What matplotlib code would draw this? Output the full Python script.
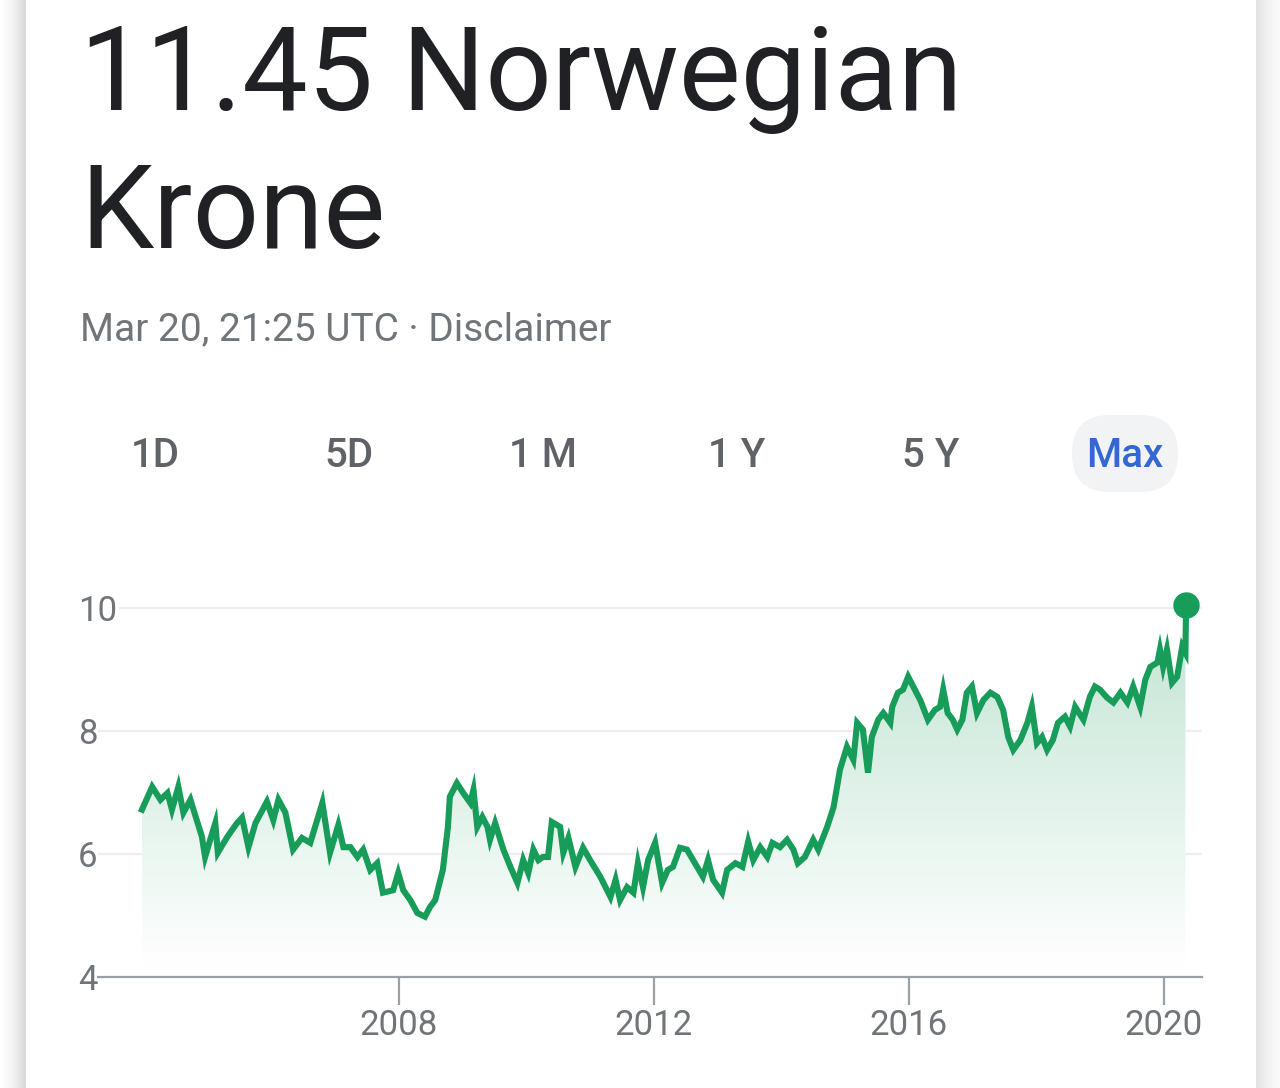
import numpy as np
import matplotlib.pyplot as plt
from matplotlib.colors import LinearSegmentedColormap
from matplotlib.patches import FancyBboxPatch

plt.rcParams['font.family'] = ['Roboto', 'DejaVu Sans']

# NOK per USD (decimal years)
years = [2003.97, 2004.13, 2004.26, 2004.37, 2004.44, 2004.54, 2004.62, 2004.73,
         2004.91, 2004.96, 2005.04, 2005.12, 2005.16, 2005.31, 2005.46, 2005.54,
         2005.64, 2005.75, 2005.93, 2006.03, 2006.11, 2006.22, 2006.34, 2006.48,
         2006.61, 2006.80, 2006.92, 2007.05, 2007.13, 2007.24, 2007.35, 2007.44,
         2007.55, 2007.66, 2007.75, 2007.91, 2007.99, 2008.07, 2008.18, 2008.29,
         2008.41, 2008.49, 2008.57, 2008.69, 2008.77, 2008.80, 2008.91, 2009.01,
         2009.12, 2009.17, 2009.23, 2009.31, 2009.39, 2009.43, 2009.51, 2009.64,
         2009.75, 2009.86, 2009.95, 2010.03, 2010.11, 2010.19, 2010.26, 2010.34,
         2010.40, 2010.53, 2010.58, 2010.66, 2010.77, 2010.89, 2011.00, 2011.16,
         2011.32, 2011.40, 2011.47, 2011.58, 2011.68, 2011.75, 2011.83, 2011.91,
         2012.02, 2012.13, 2012.22, 2012.30, 2012.41, 2012.52, 2012.68, 2012.77,
         2012.85, 2012.93, 2013.07, 2013.15, 2013.28, 2013.39, 2013.48, 2013.56,
         2013.67, 2013.78, 2013.86, 2013.98, 2014.09, 2014.19, 2014.26, 2014.37,
         2014.50, 2014.58, 2014.72, 2014.82, 2014.92, 2015.03, 2015.13, 2015.19,
         2015.28, 2015.36, 2015.42, 2015.52, 2015.60, 2015.71, 2015.74, 2015.83,
         2015.91, 2015.99, 2016.07, 2016.18, 2016.30, 2016.41, 2016.49, 2016.54,
         2016.61, 2016.69, 2016.76, 2016.84, 2016.91, 2016.99, 2017.07, 2017.17,
         2017.28, 2017.39, 2017.48, 2017.56, 2017.64, 2017.75, 2017.86, 2017.93,
         2018.01, 2018.09, 2018.17, 2018.26, 2018.34, 2018.45, 2018.53, 2018.61,
         2018.74, 2018.84, 2018.92, 2019.00, 2019.11, 2019.21, 2019.32, 2019.43,
         2019.52, 2019.63, 2019.71, 2019.79, 2019.90, 2019.94, 2019.99, 2020.05,
         2020.13, 2020.21, 2020.29, 2020.34, 2020.35]
rate = [6.72, 7.09, 6.88, 6.99, 6.72, 7.09, 6.67, 6.88,
        6.28, 5.95, 6.23, 6.50, 6.02, 6.28, 6.50, 6.59,
        6.11, 6.50, 6.85, 6.55, 6.88, 6.67, 6.07, 6.26,
        6.18, 6.83, 6.02, 6.47, 6.11, 6.11, 5.95, 6.07,
        5.74, 5.85, 5.37, 5.41, 5.69, 5.41, 5.25, 5.04,
        4.98, 5.14, 5.25, 5.74, 6.44, 6.93, 7.15, 6.99,
        6.83, 7.04, 6.44, 6.60, 6.44, 6.23, 6.50, 6.07,
        5.79, 5.53, 5.90, 5.69, 6.07, 5.90, 5.95, 5.95,
        6.52, 6.44, 6.02, 6.26, 5.79, 6.10, 5.90, 5.63,
        5.30, 5.58, 5.25, 5.46, 5.37, 5.85, 5.46, 5.90,
        6.18, 5.53, 5.74, 5.79, 6.10, 6.07, 5.79, 5.63,
        5.90, 5.58, 5.37, 5.74, 5.85, 5.79, 6.20, 5.90,
        6.11, 5.95, 6.18, 6.11, 6.23, 6.07, 5.85, 5.95,
        6.23, 6.07, 6.44, 6.76, 7.37, 7.74, 7.53, 8.13,
        8.02, 7.32, 7.90, 8.18, 8.29, 8.13, 8.39, 8.62,
        8.67, 8.88, 8.72, 8.50, 8.18, 8.34, 8.39, 8.67,
        8.29, 8.18, 8.02, 8.18, 8.62, 8.72, 8.29, 8.50,
        8.62, 8.55, 8.34, 7.90, 7.69, 7.85, 8.13, 8.39,
        7.80, 7.90, 7.69, 7.85, 8.13, 8.23, 8.07, 8.39,
        8.18, 8.55, 8.72, 8.67, 8.54, 8.46, 8.62, 8.46,
        8.72, 8.39, 8.83, 9.04, 9.11, 9.32, 9.04, 9.32,
        8.78, 8.88, 9.37, 9.27, 10.05]

yticks = [4, 6, 8, 10]
xticks = [2008, 2012, 2016, 2020]
ranges = ['1D', '5D', '1 M', '1 Y', '5 Y', 'Max']

green = '#179c5a'
label_gray = '#70757a'

fig = plt.figure(figsize=(12.8, 10.88), dpi=100, facecolor='white')

# background layer in pixel coordinates (card edges, header text, buttons)
bg = fig.add_axes([0, 0, 1, 1], zorder=-1)
left_shade = LinearSegmentedColormap.from_list('ls', ['#ffffff', '#f4f4f4', '#d8d8d8'])
right_shade = LinearSegmentedColormap.from_list('rs', ['#e2e2e2', '#f2f2f2', '#fbfbfb'])
grad = np.linspace(0, 1, 64).reshape(1, -1)
bg.imshow(grad, cmap=left_shade, extent=[0, 26, 1088, 0], aspect='auto')
bg.imshow(grad, cmap=right_shade, extent=[1256, 1280, 1088, 0], aspect='auto')
bg.set_xlim(0, 1280)
bg.set_ylim(1088, 0)
bg.axis('off')

bg.text(80, 110, '11.45 Norwegian', fontsize=84, color='#202124', va='baseline')
bg.text(80, 248, 'Krone', fontsize=84, color='#202124', va='baseline')
bg.text(80, 340, 'Mar 20, 21:25 UTC \u00b7 Disclaimer', fontsize=28, color=label_gray, va='baseline')

pill = FancyBboxPatch((1110, 415 + 38), 30, 1, boxstyle='round,pad=38',
                      facecolor='#f1f3f4', edgecolor='none')
bg.add_patch(pill)
for i, r in enumerate(ranges):
    cx = 155 + i * 194
    col = '#3367d6' if r == 'Max' else '#5f6368'
    bg.text(cx, 467, r, fontsize=29, color=col, ha='center', va='baseline',
            fontweight='medium')

# chart
ax = fig.add_axes([98 / 1280, 1 - 977 / 1088, 1104 / 1280, 400 / 1088])
ax.set_facecolor('none')
ax.set_xlim(2003.28, 2020.60)
ax.set_ylim(4, 10.5)

x = np.array(years)
y = np.array(rate)
base = 4.1

# gradient fill under the line
fill_cmap = LinearSegmentedColormap.from_list('fill', ['#ffffff', green])
levels = np.linspace(0.0, 0.27, 256).reshape(-1, 1)
img = ax.imshow(levels[::-1], cmap=fill_cmap, vmin=0, vmax=1,
                extent=[x[0], x[-1], base, 10.0], aspect='auto', zorder=1)
poly = ax.fill_between(x[:-1], y[:-1], base, color='none', zorder=1)
img.set_clip_path(poly.get_paths()[0], transform=ax.transData)

for v, x0 in zip([6, 8, 10], [0.0, 0.0, 0.02]):
    ax.axhline(v, xmin=x0, xmax=1, color='#eeeeee', lw=1.6, zorder=0)

ax.plot(x, y, color=green, lw=4.4, solid_joinstyle='miter', zorder=3)
ax.plot(x[-1], y[-1], 'o', color=green, markersize=18, zorder=4)

for s in ['top', 'right', 'left']:
    ax.spines[s].set_visible(False)
ax.spines['bottom'].set_color('#9aa0a6')
ax.spines['bottom'].set_linewidth(1.6)

ax.set_yticks(yticks)
ax.set_yticklabels([str(t) for t in yticks])
ax.tick_params(axis='y', length=0, pad=14.4, labelsize=25, labelcolor=label_gray)
plt.setp(ax.get_yticklabels(), ha='left')

ax.set_xticks(xticks)
ax.set_xticklabels([str(t) for t in xticks])
ax.tick_params(axis='x', length=20, width=1.6, color='#9aa0a6', pad=3,
               labelsize=25, labelcolor=label_gray, direction='out')

fig.savefig('out.png', dpi=100, facecolor='white')
